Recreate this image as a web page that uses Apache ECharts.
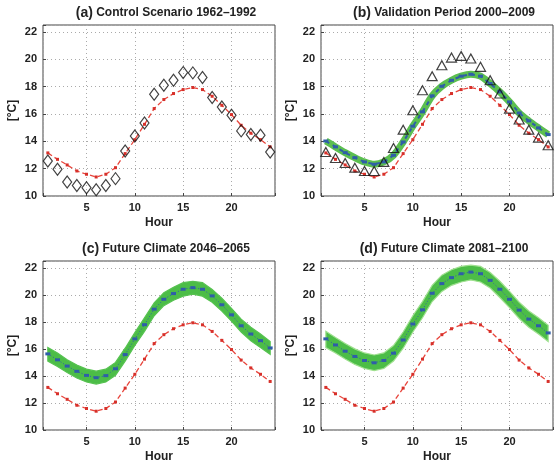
<!DOCTYPE html>
<html>
<head>
<meta charset="utf-8">
<script src="https://cdn.jsdelivr.net/npm/echarts@6/dist/echarts.min.js"></script>
<style>
  html, body { margin: 0; padding: 0; background: #fff; }
  #chart { width: 558px; height: 464px; }
</style>
</head>
<body>
<div id="chart"></div>
<script>
// hours of the day
var hours = [1, 2, 3, 4, 5, 6, 7, 8, 9, 10, 11, 12, 13, 14, 15, 16, 17, 18, 19, 20, 21, 22, 23, 24]
var xTickLabels = [5, 10, 15, 20]
var yTickLabels = [10, 12, 14, 16, 18, 20, 22]

// red dashed curve (same in every panel)
var controlModel = [13.15, 12.68, 12.27, 11.83, 11.59, 11.39, 11.59, 12.07, 13.1, 14.12, 15.24, 16.39,
  17.05, 17.49, 17.78, 17.93, 17.78, 17.29, 16.63, 15.95, 15.17, 14.59, 14.12, 13.59]
// (a) diamonds
var obsControl = [12.56, 11.95, 11.02, 10.76, 10.61, 10.46, 10.76, 11.27, 13.29, 14.39, 15.34, 17.44,
  18.1, 18.46, 19.02, 19.0, 18.66, 17.2, 16.51, 15.9, 14.76, 14.49, 14.44, 13.22]
// (b) triangles
var obsValid = [13.22, 12.78, 12.41, 12.07, 11.83, 11.83, 12.49, 13.51, 14.85, 16.27, 17.73, 18.76,
  19.56, 20.12, 20.24, 20.05, 19.44, 18.46, 17.49, 16.39, 15.59, 14.85, 14.27, 13.71]
// blue mean curves
var meanValid = [14.02, 13.59, 13.17, 12.8, 12.49, 12.32, 12.49, 12.98, 13.95, 15.1, 16.15, 17.32,
  18.02, 18.46, 18.76, 18.9, 18.76, 18.22, 17.61, 16.88, 16.07, 15.49, 14.98, 14.49]
var meanMid = [15.63, 15.19, 14.73, 14.34, 14.04, 13.87, 14.02, 14.53, 15.58, 16.74, 17.79, 18.94,
  19.67, 20.09, 20.41, 20.53, 20.41, 19.92, 19.26, 18.52, 17.71, 17.1, 16.61, 16.07]
var meanEnd = [16.74, 16.29, 15.83, 15.44, 15.14, 14.97, 15.14, 15.68, 16.66, 17.84, 18.89, 20.11,
  20.83, 21.27, 21.56, 21.68, 21.56, 21.07, 20.41, 19.67, 18.87, 18.2, 17.71, 17.18]
// green ensemble envelopes
var upperMid = [16.1, 15.7, 15.2, 14.8, 14.5, 14.35, 14.5, 15.0, 16.05, 17.2, 18.3, 19.4,
  20.15, 20.55, 20.9, 21.0, 20.9, 20.4, 19.75, 19.0, 18.2, 17.6, 17.1, 16.55]
var lowerMid = [15.1, 14.7, 14.25, 13.85, 13.55, 13.4, 13.55, 14.05, 15.1, 16.25, 17.3, 18.45,
  19.2, 19.6, 19.9, 20.05, 19.9, 19.45, 18.8, 18.05, 17.25, 16.6, 16.1, 15.6]
var upperEnd = [17.3, 16.85, 16.4, 16.0, 15.7, 15.55, 15.7, 16.25, 17.25, 18.45, 19.5, 20.7,
  21.45, 21.85, 22.1, 22.2, 22.1, 21.65, 21.0, 20.25, 19.45, 18.8, 18.3, 17.75]
var lowerEnd = [16.1, 15.7, 15.25, 14.85, 14.55, 14.4, 14.55, 15.1, 16.05, 17.25, 18.3, 19.5,
  20.25, 20.7, 20.95, 21.1, 20.95, 20.5, 19.8, 19.05, 18.25, 17.6, 17.1, 16.55]

var titles = [
  ['(a)', 'Control Scenario 1962\u20131992'],
  ['(b)', 'Validation Period 2000\u20132009'],
  ['(c)', 'Future Climate 2046\u20132065'],
  ['(d)', 'Future Climate 2081\u20132100']
]

var FONT = 'Liberation Sans, Arial, sans-serif'
var RED = '#e8453c'
var BLUE = '#2f5ea8'
var GREEN = '#4cbd47'

function pairs(ys) {
  return hours.map(function(h, i) { return [h, ys[i]] })
}

var gridPos = [
  { left: 43, top: 25 },
  { left: 321, top: 25 },
  { left: 43, top: 261 },
  { left: 321, top: 261 }
]

var grids = [], xAxes = [], yAxes = [], graphics = []
gridPos.forEach(function(p, i) {
  grids.push({
    left: p.left, top: p.top, width: 232, height: 171,
    show: true, borderColor: '#444', borderWidth: 1, backgroundColor: '#fff'
  })
  xAxes.push({
    gridIndex: i, type: 'value', min: 0.5, max: 24.5,
    name: 'Hour', nameLocation: 'middle', nameGap: 21,
    nameTextStyle: { fontFamily: FONT, fontWeight: 'bold', fontSize: 12, color: '#222' },
    axisLine: { show: false },
    axisTick: { show: true, inside: true, length: 3, lineStyle: { color: '#444' } },
    axisLabel: {
      fontFamily: FONT, fontWeight: 'bold', fontSize: 11, color: '#222', margin: 6,
      formatter: function(v) { return xTickLabels.indexOf(v) >= 0 ? String(v) : '' }
    },
    splitLine: { show: true, lineStyle: { color: '#aaa', type: [1, 3], width: 1 } }
  })
  yAxes.push({
    gridIndex: i, type: 'value', min: 10, max: 22.5, interval: 2,
    name: '[\u00b0C]', nameLocation: 'middle', nameGap: 24, nameRotate: 90,
    nameTextStyle: { fontFamily: FONT, fontWeight: 'bold', fontSize: 12, color: '#222' },
    axisLine: { show: false },
    axisTick: { show: true, inside: true, length: 3, lineStyle: { color: '#444' } },
    axisLabel: {
      fontFamily: FONT, fontWeight: 'bold', fontSize: 11, color: '#222', margin: 6,
      formatter: function(v) { return yTickLabels.indexOf(v) >= 0 ? String(v) : '' }
    },
    splitLine: { show: true, lineStyle: { color: '#aaa', type: [1, 3], width: 1 } }
  })
  graphics.push({
    type: 'text',
    x: p.left + 123, y: p.top - 12,
    style: {
      text: '{a|' + titles[i][0] + '} {b|' + titles[i][1] + '}',
      align: 'center', verticalAlign: 'middle',
      rich: {
        a: { fontFamily: FONT, fontWeight: 'bold', fontSize: 14, fill: '#222' },
        b: { fontFamily: FONT, fontWeight: 'bold', fontSize: 12, fill: '#222' }
      }
    }
  })
})

function redSeries(i) {
  return {
    type: 'line', xAxisIndex: i, yAxisIndex: i, data: pairs(controlModel), z: 4,
    symbol: 'rect', symbolSize: 3, itemStyle: { color: '#d7302a' },
    lineStyle: { color: RED, width: 1.3, type: [5, 3] }
  }
}

function blueSeries(i, ys, dashed) {
  return {
    type: 'line', xAxisIndex: i, yAxisIndex: i, data: pairs(ys), z: 5,
    symbol: 'rect', symbolSize: [5, 3], itemStyle: { color: BLUE },
    lineStyle: { color: BLUE, width: dashed ? 2 : 1, type: dashed ? [4, 4] : [1, 2] }
  }
}

// envelope polygon drawn through the axis scales
function band(i, lower, upper, edge) {
  var rows = hours.map(function(h, k) { return [h, lower[k], upper[k]] })
  return {
    type: 'custom', xAxisIndex: i, yAxisIndex: i, data: rows, z: 2,
    encode: { x: 0, y: [1, 2] },
    renderItem: function(params, api) {
      if (params.dataIndex !== 0) return null
      var top = rows.map(function(r) { return api.coord([r[0], r[2]]) })
      var bot = rows.map(function(r) { return api.coord([r[0], r[1]]) }).reverse()
      return {
        type: 'polygon',
        shape: { points: top.concat(bot) },
        style: { fill: GREEN, stroke: edge, lineWidth: 1.2 }
      }
    }
  }
}

var series = [
  redSeries(0),
  {
    type: 'scatter', xAxisIndex: 0, yAxisIndex: 0, data: pairs(obsControl), z: 6,
    symbol: 'diamond', symbolSize: [9, 12],
    itemStyle: { color: 'rgba(255,255,255,0)', borderColor: '#111', borderWidth: 1.2 }
  },
  {
    type: 'line', xAxisIndex: 1, yAxisIndex: 1, data: pairs(meanValid), z: 3,
    symbol: 'none', smooth: 0.3, lineStyle: { color: '#5cbf50', width: 7 }
  },
  blueSeries(1, meanValid, true),
  redSeries(1),
  {
    type: 'scatter', xAxisIndex: 1, yAxisIndex: 1, data: pairs(obsValid), z: 6,
    symbol: 'triangle', symbolSize: [10, 9],
    itemStyle: { color: 'rgba(255,255,255,0)', borderColor: '#111', borderWidth: 1.2 }
  },
  band(2, lowerMid, upperMid, '#56c250'),
  blueSeries(2, meanMid, false),
  redSeries(2),
  band(3, lowerEnd, upperEnd, '#9fe08f'),
  blueSeries(3, meanEnd, false),
  redSeries(3)
]

var chart = echarts.init(document.getElementById('chart'))
chart.setOption({
  animation: false,
  backgroundColor: '#fff',
  grid: grids,
  xAxis: xAxes,
  yAxis: yAxes,
  graphic: graphics,
  series: series
})
</script>
</body>
</html>
